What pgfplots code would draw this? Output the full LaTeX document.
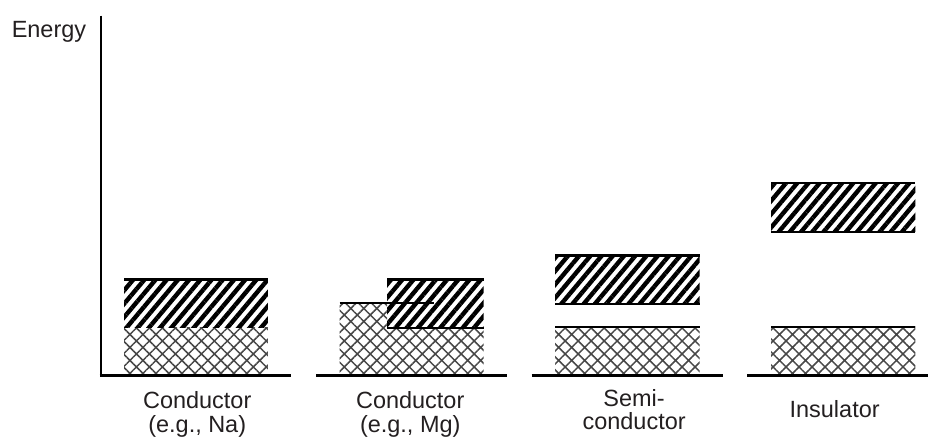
\documentclass[border=0pt]{standalone}
\usepackage{fontspec}
\setmainfont{Liberation Sans}
\usepackage{pgfplots}
\pgfplotsset{compat=1.18}
\usetikzlibrary{patterns.meta}
\definecolor{txt}{HTML}{231F20}
\begin{document}
\begin{tikzpicture}
\tikzset{
  cond/.style={draw=none,pattern={Lines[angle=50,distance=8.6pt,line width=4.4pt]},pattern color=black},
  val/.style={draw=none,pattern={Hatch[angle=45,distance=9.2pt,line width=1.5pt]},pattern color=black!72},
  edge/.style={black,line width=2.4pt,mark=none},
  lbl/.style={anchor=base,text=txt,font=\fontsize{23.5}{28}\selectfont,inner sep=0pt}
}
\begin{axis}[
  width=929pt,height=439pt,scale only axis,
  xmin=0,xmax=929,ymin=0,ymax=439,
  hide axis,clip=false
]
\addplot[draw=none,mark=none] coordinates {(0,0) (929,439)};
% ---- Conductor (Na)
\addplot[val] coordinates {(124.3,63) (268.3,63) (268.3,110.7) (124.3,110.7)} -- cycle;
\addplot[cond] coordinates {(124.3,110.7) (268.3,110.7) (268.3,159) (124.3,159)} -- cycle;
\addplot[edge] coordinates {(124.3,159) (268.3,159)};
% ---- Conductor (Mg)
\addplot[val] coordinates {(340,63) (484.3,63) (484.3,110.7) (387.7,110.7) (387.7,135.7) (340,135.7)} -- cycle;
\addplot[cond] coordinates {(387.7,110.7) (484.3,110.7) (484.3,159) (387.7,159)} -- cycle;
\addplot[edge] coordinates {(387.7,159) (484.3,159)};
\addplot[edge] coordinates {(387.7,110.7) (484.3,110.7)};
\addplot[edge] coordinates {(340,135.7) (435,135.7)};
% ---- Semiconductor
\addplot[val] coordinates {(556,63) (700.7,63) (700.7,111.7) (556,111.7)} -- cycle;
\addplot[edge] coordinates {(556,111.7) (700.7,111.7)};
\addplot[cond] coordinates {(556,134.7) (700.7,134.7) (700.7,183.3) (556,183.3)} -- cycle;
\addplot[edge] coordinates {(556,183.3) (700.7,183.3)};
\addplot[edge] coordinates {(556,134.7) (700.7,134.7)};
% ---- Insulator
\addplot[val] coordinates {(772.3,63) (916.7,63) (916.7,111.7) (772.3,111.7)} -- cycle;
\addplot[edge] coordinates {(772.3,111.7) (916.7,111.7)};
\addplot[cond] coordinates {(772.3,206.7) (916.7,206.7) (916.7,255.7) (772.3,255.7)} -- cycle;
\addplot[edge] coordinates {(772.3,255.7) (916.7,255.7)};
\addplot[edge] coordinates {(772.3,206.7) (916.7,206.7)};
% ---- axis and baselines
\addplot[edge,line width=2.6pt] coordinates {(101,423.3) (101,63)};
\addplot[edge,line width=2.6pt] coordinates {(99.7,63) (291.7,63)};
\addplot[edge,line width=2.6pt] coordinates {(316.7,63) (508,63)};
\addplot[edge,line width=2.6pt] coordinates {(532.3,63) (724,63)};
\addplot[edge,line width=2.6pt] coordinates {(748.3,63) (929,63)};
% ---- labels
\node[lbl] at (axis cs:49,401.5) {Energy};
\node[lbl] at (axis cs:197.5,29.7) {Conductor};
\node[lbl] at (axis cs:197.5,6.3) {(e.g., Na)};
\node[lbl] at (axis cs:410.8,29.7) {Conductor};
\node[lbl] at (axis cs:410.8,6.3) {(e.g., Mg)};
\node[lbl] at (axis cs:635,32.3) {Semi-};
\node[lbl] at (axis cs:635,9) {conductor};
\node[lbl] at (axis cs:835.8,20.7) {Insulator};
\end{axis}
\end{tikzpicture}
\end{document}
